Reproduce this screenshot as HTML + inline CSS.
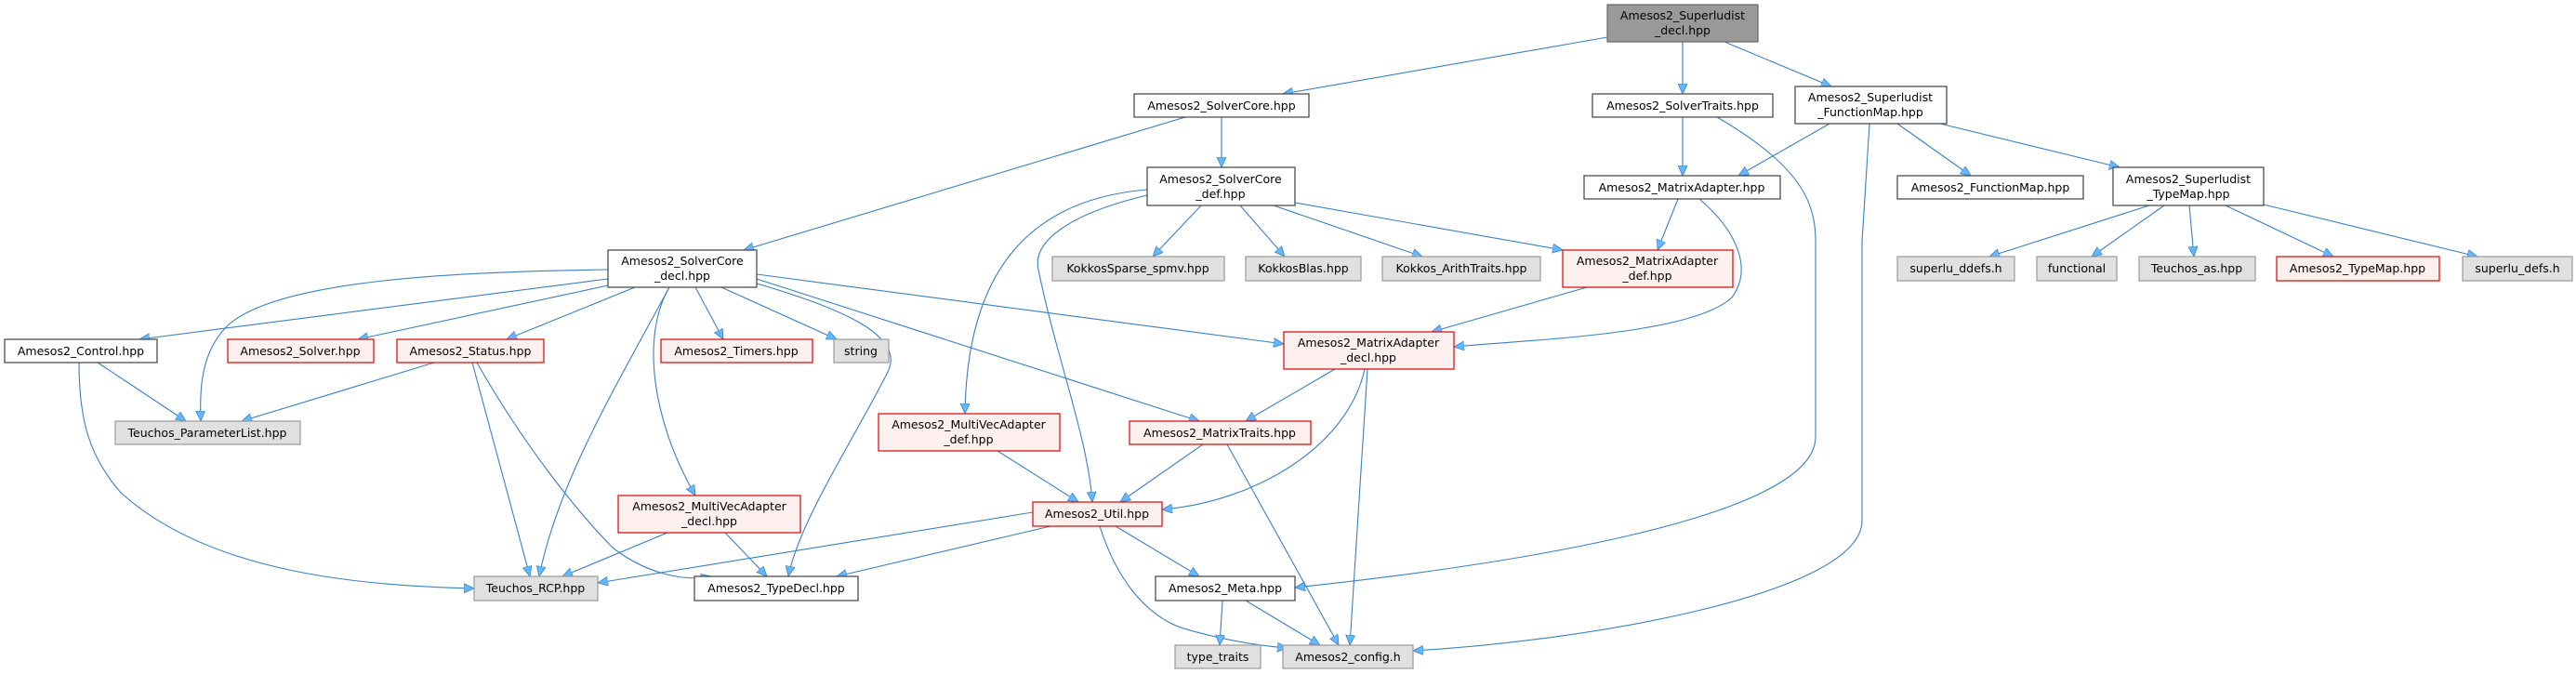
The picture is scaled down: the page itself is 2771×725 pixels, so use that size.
<!DOCTYPE html>
<html><head><meta charset="utf-8"><style>
html,body{margin:0;padding:0;background:#fff}
svg{display:block}
text{font-family:"DejaVu Sans","Liberation Sans",sans-serif;font-size:12.5px;fill:#000}
.w{fill:#fff;stroke:#404040;stroke-width:1.2}
.r{fill:#fff0f0;stroke:#e00000;stroke-width:1.2}
.g{fill:#e0e0e0;stroke:#999;stroke-width:1.2}
.t{fill:#999;stroke:#666;stroke-width:1.2}
path.e{fill:none;stroke:#3c7fc0;stroke-width:1.1;marker-end:url(#a)}
</style></head><body>
<svg width="2771" height="725" viewBox="0 0 2771 725" xmlns="http://www.w3.org/2000/svg">
<defs><marker id="a" markerUnits="userSpaceOnUse" markerWidth="14" markerHeight="12" refX="11" refY="5" orient="auto"><path d="M0,0 L11,5 L0,10 z" fill="#63b8ff" stroke="#3c7fc0" stroke-width="0.8"/></marker></defs>
<g>
<path class="e" d="M1729,40 L1380,101"/>
<path class="e" d="M1810,45 L1810,101"/>
<path class="e" d="M1855,45 L1970,93"/>
<path class="e" d="M1275,126 L800,269"/>
<path class="e" d="M1314,126 L1314,180"/>
<path class="e" d="M1810,126 L1810,189"/>
<path class="e" d="M1847,126 C1940,180 1953,220 1953,260 L1953,470 C1953,560 1600,610 1393,632"/>
<path class="e" d="M1968,133 L1870,189"/>
<path class="e" d="M2041,133 L2120,189"/>
<path class="e" d="M2087,133 L2280,180"/>
<path class="e" d="M2011,133 L2003,260 L2003,560 C2003,640 1700,690 1520,700"/>
<path class="e" d="M2312,221 L2140,276"/>
<path class="e" d="M2328,221 L2250,276"/>
<path class="e" d="M2355,221 L2360,276"/>
<path class="e" d="M2394,221 L2510,276"/>
<path class="e" d="M2435,220 L2665,276"/>
<path class="e" d="M1292,221 L1240,276"/>
<path class="e" d="M1334,221 L1382,276"/>
<path class="e" d="M1370,221 L1530,276"/>
<path class="e" d="M1393,218 L1681,269"/>
<path class="e" d="M1234,204 C1100,215 1040,300 1038,445"/>
<path class="e" d="M1234,210 C1150,230 1110,260 1117,290 C1135,380 1170,470 1175,540"/>
<path class="e" d="M1805,214 L1783,269"/>
<path class="e" d="M1828,214 C1870,250 1885,290 1863,320 C1820,360 1650,365 1564,373"/>
<path class="e" d="M1707,309 L1540,357"/>
<path class="e" d="M1436,397 L1340,453"/>
<path class="e" d="M1468,397 C1450,480 1350,540 1250,548"/>
<path class="e" d="M1471,397 L1452,694"/>
<path class="e" d="M654,300 L150,365"/>
<path class="e" d="M654,290 C500,292 300,300 245,350 C215,380 215,420 216,453"/>
<path class="e" d="M654,307 L385,365"/>
<path class="e" d="M683,309 L545,365"/>
<path class="e" d="M748,309 L778,365"/>
<path class="e" d="M776,309 L900,365"/>
<path class="e" d="M814,295 L1381,370"/>
<path class="e" d="M814,300 L1290,453"/>
<path class="e" d="M814,305 C900,330 975,360 955,400 C920,470 860,560 848,620"/>
<path class="e" d="M720,309 C690,360 700,450 748,533"/>
<path class="e" d="M720,309 C660,420 600,520 580,620"/>
<path class="e" d="M105,390 L200,453"/>
<path class="e" d="M85,390 C85,450 95,490 130,530 C230,620 400,630 510,633"/>
<path class="e" d="M467,390 L260,453"/>
<path class="e" d="M508,390 L570,620"/>
<path class="e" d="M513,390 C570,490 630,560 660,590 C700,620 740,625 765,620"/>
<path class="e" d="M718,573 L605,620"/>
<path class="e" d="M780,573 L825,620"/>
<path class="e" d="M1073,485 L1160,540"/>
<path class="e" d="M1294,478 L1205,540"/>
<path class="e" d="M1320,478 L1440,694"/>
<path class="e" d="M1111,551 L643,627"/>
<path class="e" d="M1130,566 L900,620"/>
<path class="e" d="M1200,566 L1290,620"/>
<path class="e" d="M1183,566 C1200,620 1230,660 1270,675 C1320,690 1360,695 1385,697"/>
<path class="e" d="M1315,646 L1312,694"/>
<path class="e" d="M1340,646 L1420,694"/>
</g>
<g text-anchor="middle">
<rect class="t" x="1729" y="5" width="162" height="40"/><text x="1810" y="21">Amesos2_Superludist</text><text x="1810" y="37">_decl.hpp</text>
<rect class="w" x="1220" y="101" width="188" height="25"/><text x="1314" y="118">Amesos2_SolverCore.hpp</text>
<rect class="w" x="1713" y="101" width="194" height="25"/><text x="1810" y="118">Amesos2_SolverTraits.hpp</text>
<rect class="w" x="1931" y="93" width="163" height="40"/><text x="2012" y="109">Amesos2_Superludist</text><text x="2012" y="125">_FunctionMap.hpp</text>
<rect class="w" x="1234" y="180" width="159" height="41"/><text x="1313" y="197">Amesos2_SolverCore</text><text x="1313" y="213">_def.hpp</text>
<rect class="w" x="1704" y="189" width="211" height="25"/><text x="1809" y="206">Amesos2_MatrixAdapter.hpp</text>
<rect class="w" x="2041" y="189" width="200" height="25"/><text x="2141" y="206">Amesos2_FunctionMap.hpp</text>
<rect class="w" x="2273" y="180" width="162" height="41"/><text x="2354" y="197">Amesos2_Superludist</text><text x="2354" y="213">_TypeMap.hpp</text>
<rect class="g" x="1132" y="276" width="185" height="26"/><text x="1224" y="293">KokkosSparse_spmv.hpp</text>
<rect class="g" x="1340" y="276" width="124" height="26"/><text x="1402" y="293">KokkosBlas.hpp</text>
<rect class="g" x="1487" y="276" width="170" height="26"/><text x="1572" y="293">Kokkos_ArithTraits.hpp</text>
<rect class="r" x="1681" y="269" width="183" height="40"/><text x="1772" y="285">Amesos2_MatrixAdapter</text><text x="1772" y="301">_def.hpp</text>
<rect class="g" x="2041" y="276" width="126" height="26"/><text x="2104" y="293">superlu_ddefs.h</text>
<rect class="g" x="2191" y="276" width="86" height="26"/><text x="2234" y="293">functional</text>
<rect class="g" x="2301" y="276" width="125" height="26"/><text x="2363" y="293">Teuchos_as.hpp</text>
<rect class="r" x="2449" y="276" width="175" height="26"/><text x="2536" y="293">Amesos2_TypeMap.hpp</text>
<rect class="g" x="2649" y="276" width="118" height="26"/><text x="2708" y="293">superlu_defs.h</text>
<rect class="w" x="654" y="269" width="160" height="40"/><text x="734" y="285">Amesos2_SolverCore</text><text x="734" y="301">_decl.hpp</text>
<rect class="w" x="5" y="365" width="164" height="25"/><text x="87" y="382">Amesos2_Control.hpp</text>
<rect class="r" x="245" y="365" width="157" height="25"/><text x="323" y="382">Amesos2_Solver.hpp</text>
<rect class="r" x="427" y="365" width="158" height="25"/><text x="506" y="382">Amesos2_Status.hpp</text>
<rect class="r" x="711" y="365" width="163" height="25"/><text x="792" y="382">Amesos2_Timers.hpp</text>
<rect class="g" x="897" y="365" width="59" height="25"/><text x="926" y="382">string</text>
<rect class="r" x="1381" y="357" width="183" height="40"/><text x="1472" y="373">Amesos2_MatrixAdapter</text><text x="1472" y="389">_decl.hpp</text>
<rect class="g" x="124" y="453" width="199" height="25"/><text x="223" y="470">Teuchos_ParameterList.hpp</text>
<rect class="r" x="945" y="445" width="195" height="40"/><text x="1042" y="461">Amesos2_MultiVecAdapter</text><text x="1042" y="477">_def.hpp</text>
<rect class="r" x="1215" y="453" width="195" height="25"/><text x="1312" y="470">Amesos2_MatrixTraits.hpp</text>
<rect class="r" x="665" y="533" width="196" height="40"/><text x="763" y="549">Amesos2_MultiVecAdapter</text><text x="763" y="565">_decl.hpp</text>
<rect class="r" x="1111" y="540" width="139" height="26"/><text x="1180" y="557">Amesos2_Util.hpp</text>
<rect class="g" x="510" y="620" width="133" height="26"/><text x="576" y="637">Teuchos_RCP.hpp</text>
<rect class="w" x="747" y="620" width="176" height="26"/><text x="835" y="637">Amesos2_TypeDecl.hpp</text>
<rect class="w" x="1243" y="620" width="150" height="26"/><text x="1318" y="637">Amesos2_Meta.hpp</text>
<rect class="g" x="1264" y="694" width="92" height="25"/><text x="1310" y="711">type_traits</text>
<rect class="g" x="1380" y="694" width="140" height="25"/><text x="1450" y="711">Amesos2_config.h</text>
</g>
</svg>
</body></html>
